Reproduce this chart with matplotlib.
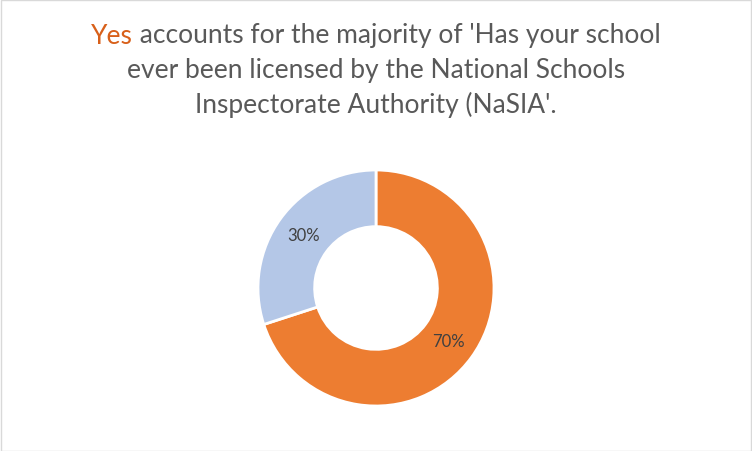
import matplotlib
matplotlib.use("Agg")
import matplotlib.pyplot as plt
from matplotlib.patches import Rectangle

# Data
labels = ["Yes", "No"]
shares = [70, 30]
colors = ["#ED7D31", "#B4C7E7"]

title_hl = "Yes"
title_line1 = " accounts for the majority of 'Has your school"
title_rest = ["ever been licensed by the National Schools",
              "Inspectorate Authority (NaSIA'."]

plt.rcParams['font.family'] = ['Lato', 'DejaVu Sans']

W, H = 752, 452
fig = plt.figure(figsize=(W / 100, H / 100), dpi=100)
fig.patch.set_facecolor("white")

# border around the chart area
fig.add_artist(Rectangle((0.5 / W, 0.5 / H), 1 - 1.5 / W, 1 - 1.5 / H,
                         transform=fig.transFigure, fill=False,
                         edgecolor="#D9D9D9", linewidth=1))

# donut: centre (376, 289) px, outer radius 118 px
cx, cy, r = 376, 289, 118
ax = fig.add_axes([(cx - r) / W, (H - cy - r) / H, 2 * r / W, 2 * r / H])
wedges, _, autotexts = ax.pie(
    shares, colors=colors, startangle=90, counterclock=False,
    radius=1, autopct="%d%%", pctdistance=0.76,
    wedgeprops=dict(width=0.48, edgecolor="white", linewidth=2),
    textprops=dict(color="#404040", fontsize=12))
ax.set_xlim(-1, 1)
ax.set_ylim(-1, 1)
ax.set_aspect("equal")
ax.axis("off")

# title
fs = 19
grey = "#595959"
orange = "#D8601A"
renderer = fig.canvas.get_renderer()
t1 = fig.text(0, 0, title_hl, fontsize=fs, color=orange)
t2 = fig.text(0, 0, title_line1, fontsize=fs, color=grey)
w1 = t1.get_window_extent(renderer).width
w2 = t2.get_window_extent(renderer).width
x0 = (W / 2 - (w1 + w2) / 2)
y1 = 1 - 36 / H
t1.set_position((x0 / W, y1))
t2.set_position(((x0 + w1) / W, y1))
t1.set_va("center")
t2.set_va("center")
for i, line in enumerate(title_rest):
    fig.text(0.5, 1 - (36 + 34.5 * (i + 1)) / H, line, fontsize=fs,
             color=grey, ha="center", va="center")

fig.savefig("out.png", dpi=100)
